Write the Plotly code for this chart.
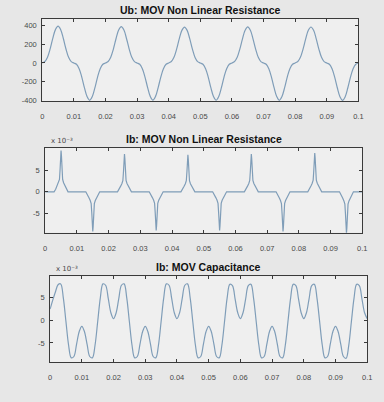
import numpy as np
import plotly.graph_objects as go

# ---- Ub across the MOV (V), sampled every 1/1200 s, one list per 20 ms cycle ----
ub_cycle1 = [0, 16, 62, 150, 262, 355, 392, 354, 260, 149, 60, 14,
             0, -14, -61, -150, -263, -358, -398, -358, -263, -150, -61, -14]
ub_cycle2 = [0, 15, 61, 148, 258, 350, 386, 350, 258, 148, 60, 14,
             0, -14, -61, -150, -262, -356, -396, -356, -262, -150, -61, -14]
ub_cycle3 = [0, 15, 60, 147, 256, 347, 382, 347, 256, 147, 59, 14,
             0, -14, -61, -150, -263, -357, -397, -357, -263, -150, -61, -14]
ub_cycle4 = [0, 15, 60, 148, 257, 348, 384, 348, 257, 148, 60, 14,
             0, -14, -61, -150, -263, -357, -398, -357, -263, -150, -61, -14]
ub_cycle5 = [0, 15, 60, 148, 257, 348, 383, 348, 257, 148, 60, 14,
             0, -14, -61, -151, -264, -359, -399, -359, -264, -151, -61, -14, 0]

# ---- Ib through the MOV capacitance (x 1e-3 A), same sampling ----
ic_cycle1 = [2.5, 4.5, 6.3, 7.9, 8.1, 5.0, -0.3, -5.5, -8.3, -8.0, -5.3, -2.5,
             -1.3, -2.5, -5.3, -8.0, -8.3, -5.5, -0.3, 5.0, 8.1, 7.8, 4.9, 1.7]
ic_cycle2 = [0.4, 1.7, 4.9, 7.8, 8.1, 5.0, -0.3, -5.5, -8.3, -8.0, -5.3, -2.5,
             -1.3, -2.5, -5.3, -8.0, -8.3, -5.5, -0.3, 5.0, 8.1, 7.8, 4.9, 1.7]
ic_cycle3 = [0.4, 1.7, 4.9, 7.8, 8.1, 5.0, -0.3, -5.5, -8.3, -8.0, -5.3, -2.5,
             -1.3, -2.5, -5.3, -8.0, -8.3, -5.5, -0.3, 5.0, 8.0, 7.7, 4.8, 1.7]
ic_cycle4 = [0.4, 1.7, 4.8, 7.7, 8.0, 4.9, -0.3, -5.5, -8.3, -8.0, -5.3, -2.5,
             -1.3, -2.5, -5.3, -8.0, -8.3, -5.5, -0.3, 4.9, 8.0, 7.7, 4.8, 1.7]
ic_cycle5 = [0.4, 1.7, 4.8, 7.7, 8.0, 4.9, -0.3, -5.5, -8.3, -8.0, -5.3, -2.5,
             -1.3, -2.5, -5.3, -8.0, -8.4, -5.6, -0.3, 4.9, 8.0, 7.7, 4.8, 1.7, 0.4]

# ---- Ib through the non-linear resistance: current pulses at the voltage crests ----
pulse_times = [0.005, 0.015, 0.025, 0.035, 0.045, 0.055, 0.065, 0.075, 0.085, 0.095]
pulse_peaks = [9.6, -9.2, 8.8, -9.0, 8.6, -9.0, 8.8, -9.2, 9.0, -9.6]   # x 1e-3 A
pulse_offsets = [-0.0022, -0.0017, -0.0012, -0.0008, -0.0005, -0.0003, -0.00012, 0,
                 0.00012, 0.0003, 0.0005, 0.0008, 0.0012, 0.0017, 0.0022]
pulse_profile = [0, 0.06, 0.15, 0.22, 0.3, 0.55, 0.88, 1,
                 0.88, 0.55, 0.3, 0.22, 0.15, 0.06, 0]

x_ticks = [0, 0.01, 0.02, 0.03, 0.04, 0.05, 0.06, 0.07, 0.08, 0.09, 0.1]
x_ticktext = ["0", "0.01", "0.02", "0.03", "0.04", "0.05", "0.06", "0.07", "0.08", "0.09", "0.1"]
ub_ticks = [-400, -200, 0, 200, 400]
ib_ticks = [-0.005, 0, 0.005]
ib_ticktext = ["-5", "0", "5"]
titles = ["Ub: MOV Non Linear Resistance", "Ib: MOV Non Linear Resistance", "Ib: MOV Capacitance"]

# sample instants of the simulated waveforms
ub = ub_cycle1 + ub_cycle2 + ub_cycle3 + ub_cycle4 + ub_cycle5
ic = [v * 1e-3 for v in ic_cycle1 + ic_cycle2 + ic_cycle3 + ic_cycle4 + ic_cycle5]
t_wave = np.linspace(0, 0.1, len(ub))

# pulse train table for the resistive current
t_res, i_res = [0.0], [0.0]
for tc, pk in zip(pulse_times, pulse_peaks):
    for off, sh in zip(pulse_offsets, pulse_profile):
        t_res.append(tc + off)
        i_res.append(pk * sh * 1e-3)
t_res.append(0.1)
i_res.append(0.0)

W, H = 384, 402
LINE = "#7f9db8"
FONT = "Liberation Sans, Arial, sans-serif"
TICKFONT = dict(family=FONT, size=7.5, color="#4a4a4a")

# plot boxes in pixels: (left, right, top, bottom)
boxes = [(41, 363, 19, 102), (44, 367, 149, 235), (49, 372, 279, 366)]

fig = go.Figure()
fig.add_trace(go.Scatter(x=t_wave, y=ub, mode="lines", line=dict(color=LINE, width=1.2, shape="spline"),
                         xaxis="x", yaxis="y", showlegend=False))
fig.add_trace(go.Scatter(x=t_res, y=i_res, mode="lines", line=dict(color=LINE, width=1.2),
                         xaxis="x2", yaxis="y2", showlegend=False))
fig.add_trace(go.Scatter(x=t_wave, y=ic, mode="lines", line=dict(color=LINE, width=1.2, shape="spline"),
                         xaxis="x3", yaxis="y3", showlegend=False))

axis_common = dict(showline=True, mirror="ticks", linecolor="#3a3a3a", linewidth=1,
                   ticks="inside", ticklen=3, tickcolor="#3a3a3a", showgrid=False,
                   zeroline=False, tickfont=TICKFONT)

layout = dict(width=W, height=H, margin=dict(l=0, r=0, t=0, b=0),
              paper_bgcolor="#e7e7e7", plot_bgcolor="#efefef", annotations=[])

yranges = [[-405, 470], [-0.0095, 0.0103], [-0.0093, 0.0098]]
for i, (l, r, tp, bt) in enumerate(boxes):
    sfx = "" if i == 0 else str(i + 1)
    layout["xaxis" + sfx] = dict(axis_common, domain=[l / W, r / W], range=[0, 0.1],
                                 tickvals=x_ticks, ticktext=x_ticktext,
                                 ticklabelstandoff=8, anchor="y" + sfx)
    ydict = dict(axis_common, domain=[1 - bt / H, 1 - tp / H], range=yranges[i],
                 ticklabelstandoff=3, anchor="x" + sfx)
    if i == 0:
        ydict.update(tickvals=ub_ticks, ticktext=[str(v) for v in ub_ticks])
    else:
        ydict.update(tickvals=ib_ticks, ticktext=ib_ticktext)
    layout["yaxis" + sfx] = ydict
    layout["annotations"].append(dict(
        text="<b>%s</b>" % titles[i], x=(l + r) / 2 / W, y=1 - (tp - 1) / H,
        xref="paper", yref="paper", xanchor="center", yanchor="bottom", showarrow=False,
        font=dict(family=FONT, size=10.5, color="#111")))
    if i > 0:
        layout["annotations"].append(dict(
            text="x 10\u207b\u00b3", x=(l + 4) / W, y=1 - (tp - 1) / H,
            xref="paper", yref="paper", xanchor="left", yanchor="bottom", showarrow=False,
            font=dict(family="DejaVu Sans, sans-serif", size=7, color="#4a4a4a")))

fig.update_layout(**layout)
fig.write_html("out.html")
